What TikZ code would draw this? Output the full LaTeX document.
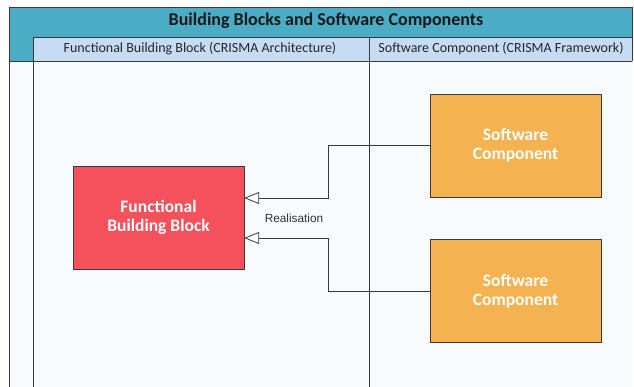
\documentclass[tikz,border=0pt]{standalone}
\usepackage{fontspec}
\setmainfont{Carlito}
\newfontfamily\arialfont{Liberation Sans}
\usetikzlibrary{arrows.meta, positioning}

\definecolor{poolteal}{HTML}{4BACC6}
\definecolor{lanehead}{HTML}{C6DCF2}
\definecolor{lanebody}{HTML}{F7FBFD}
\definecolor{blockred}{HTML}{F4515C}
\definecolor{compamber}{HTML}{F4B251}
\definecolor{frame}{HTML}{3A3A3A}

\begin{document}
\begin{tikzpicture}[
    x=1pt, y=-1pt,
    node distance=42pt and 10pt,
    fbbox/.style={draw=frame, fill=blockred, text=white, align=center,
                  minimum width=171pt, minimum height=103pt,
                  font=\fontsize{17.5}{19}\selectfont\bfseries},
    swbox/.style={draw=frame, fill=compamber, text=white, align=center,
                  minimum width=171pt, minimum height=103pt,
                  font=\fontsize{17.5}{19}\selectfont\bfseries},
    lanetitle/.style={font=\fontsize{14}{16}\selectfont, text=black!85},
    realise/.style={draw=frame, line width=0.8pt,
                    -{Triangle[open, length=15pt, width=12pt, fill=white]}}
]
\useasboundingbox (0,0) rectangle (634,387);

% pool with its two lanes
\fill[lanebody] (9,61) rectangle (632,390);
\fill[poolteal] (9,7) rectangle (632,61);
\fill[lanehead] (33,37) rectangle (632,61);
\draw[frame, line width=0.8pt]
    (9,390) -- (9,7) -- (632,7) -- (632,61)
    (9,61) -- (632,61)
    (33,390) -- (33,37) -- (632,37)
    (369,37) -- (369,390);

\node[font=\fontsize{18}{20}\selectfont\bfseries, text=black!90] (pool) at (326,21) {Building Blocks and Software Components};
\node[lanetitle] (laneA) at (200,49) {Functional Building Block (CRISMA Architecture)};
\node[lanetitle] (laneB) at (501,49) {Software Component (CRISMA Framework)};

% blocks
\node[fbbox] (fbb) at (158.5,217.5) {Functional\\Building Block};
\node[swbox] (sw1) at (515.5,145.5) {Software\\Component};
\node[swbox, below=of sw1] (sw2) {Software\\Component};

% realisation links
\draw[realise] (sw1.west) -- ++(-101,0) |- ([yshift=19.5pt]fbb.east);
\draw[realise] (sw2.west) -- ++(-101,0) |- ([yshift=-20.5pt]fbb.east);
\node[font=\arialfont\fontsize{11.8}{14}\selectfont, text=black!80] (rel) at (294,218) {Realisation};
\end{tikzpicture}
\end{document}
